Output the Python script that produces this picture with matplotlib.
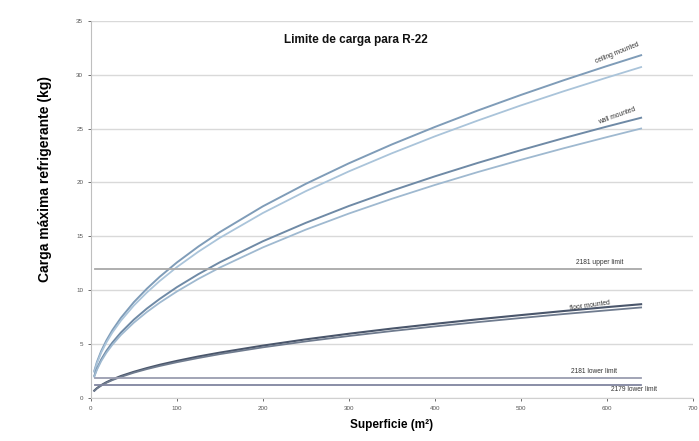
import matplotlib.pyplot as plt

# values
area = [4, 7, 12, 18, 25, 35, 50, 65, 80, 100, 125, 150, 200, 250, 300, 350, 400, 450, 500, 550, 600, 640]
ceiling_upper = [2.51, 3.33, 4.35, 5.33, 6.29, 7.44, 8.89, 10.13, 11.24, 12.57, 14.05, 15.39, 17.78, 19.87, 21.77, 23.52, 25.14, 26.67, 28.11, 29.48, 30.79, 31.8]
ceiling_lower = [2.43, 3.21, 4.20, 5.15, 6.07, 7.18, 8.58, 9.78, 10.85, 12.14, 13.57, 14.86, 17.16, 19.19, 21.02, 22.70, 24.27, 25.74, 27.14, 28.46, 29.72, 30.7]
wall_upper = [2.06, 2.72, 3.56, 4.36, 5.14, 6.08, 7.27, 8.29, 9.19, 10.28, 11.49, 12.59, 14.54, 16.25, 17.81, 19.23, 20.56, 21.81, 22.99, 24.11, 25.18, 26.0]
wall_lower = [1.98, 2.61, 3.42, 4.19, 4.94, 5.85, 6.99, 7.97, 8.84, 9.88, 11.05, 12.10, 13.97, 15.62, 17.11, 18.48, 19.76, 20.96, 22.09, 23.17, 24.20, 25.0]
floor_upper = [0.69, 0.91, 1.19, 1.46, 1.72, 2.04, 2.43, 2.77, 3.08, 3.44, 3.85, 4.21, 4.86, 5.44, 5.96, 6.44, 6.88, 7.30, 7.69, 8.07, 8.43, 8.7]
floor_lower = [0.66, 0.88, 1.15, 1.41, 1.66, 1.96, 2.35, 2.68, 2.97, 3.32, 3.71, 4.07, 4.70, 5.25, 5.75, 6.21, 6.64, 7.04, 7.42, 7.79, 8.13, 8.4]

limit_span = [5, 640]
limit_names = ["2181 upper limit", "2181 lower limit", "2179 lower limit"]
limit_values = [12.0, 1.86, 1.2]

xticks = [0, 100, 200, 300, 400, 500, 600, 700]
yticks = [0, 5, 10, 15, 20, 25, 30, 35]

plt.rcParams['font.family'] = ['Liberation Sans', 'DejaVu Sans']

fig = plt.figure(figsize=(6.99, 4.41), dpi=100)
ax = fig.add_axes([0.130, 0.0975, 0.861, 0.8555])

ax.plot(area, ceiling_upper, color='#7f9cb8', lw=1.4)
ax.plot(area, ceiling_lower, color='#aac4da', lw=1.3)
ax.plot(area, wall_upper, color='#6f8aa6', lw=1.4)
ax.plot(area, wall_lower, color='#9fb9d0', lw=1.3)
ax.plot(area, floor_upper, color='#4a566b', lw=1.5)
ax.plot(area, floor_lower, color='#6f7b8e', lw=1.3)

limit_colors = ['#a8a8a8', '#9a9db0', '#80859f']
for val, col in zip(limit_values, limit_colors):
    ax.plot(limit_span, [val, val], color=col, lw=1.3)

# small curve labels
small = dict(fontsize=4.8, color='#333333')
ax.text(612, 30.9, "ceiling mounted", rotation=22, ha='center', va='bottom', **small)
ax.text(612, 25.2, "wall mounted", rotation=20, ha='center', va='bottom', **small)
ax.text(580, 8.0, "floor mounted", rotation=8, ha='center', va='bottom', **small)
ax.text(592, 12.25, limit_names[0], ha='center', va='bottom', **small)
ax.text(585, 2.1, limit_names[1], ha='center', va='bottom', **small)
ax.text(632, 0.45, limit_names[2], ha='center', va='bottom', **small)

ax.text(0.44, 0.95, "Limite de carga para R-22", transform=ax.transAxes,
        ha='center', va='center', fontsize=8.5, fontweight='bold', color='#111111')

ax.set_xlim(0, 700)
ax.set_ylim(0, 35)
ax.set_xticks(xticks)
ax.set_yticks(yticks)
ax.tick_params(labelsize=4.5, colors='#555555', length=2, width=0.6)
ax.grid(axis='y', color='#d9d9d9', lw=1.0)
ax.set_axisbelow(True)
for side in ['top', 'right']:
    ax.spines[side].set_visible(False)
ax.spines['left'].set_color('#bfbfbf')
ax.spines['bottom'].set_color('#d0d0d0')

ax.set_xlabel("Superficie (m²)", fontsize=8.5, fontweight='bold', labelpad=6)
fig.text(0.064, 0.595, "Carga máxima refrigerante (kg)", rotation=90,
         ha='center', va='center', fontsize=10, fontweight='bold')

fig.savefig('out.png', dpi=100, facecolor='white')
plt.close(fig)
